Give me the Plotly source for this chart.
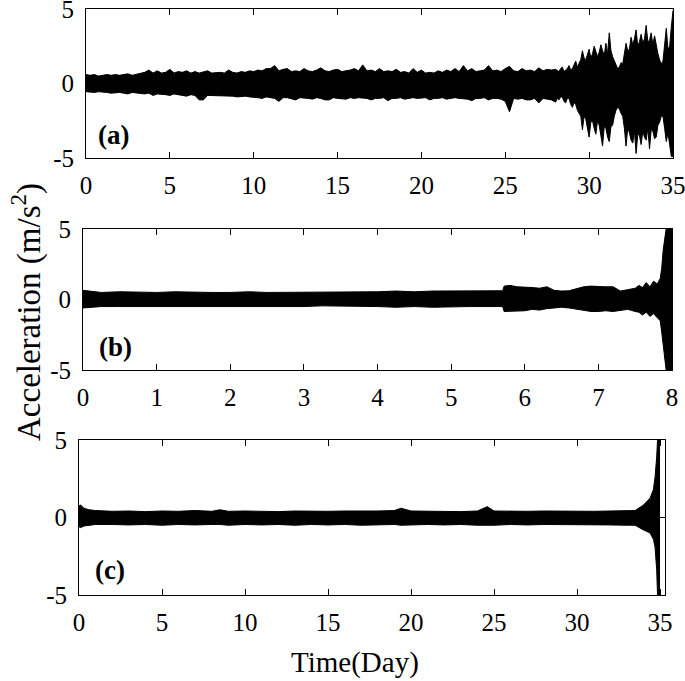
import plotly.graph_objects as go

# ---------------- data (signal envelopes) ----------------
# Panel (a): 0-28 days sampled every 0.25 day, then 28.1-35 every 0.1 day
up_a_early = [0.6, 0.55, 0.6, 0.5, 0.55, 0.6, 0.55, 0.6, 0.55, 0.6, 0.65, 0.55,
              0.6, 0.7, 0.75, 0.9, 0.7, 0.85, 0.7, 0.75, 0.95, 0.7, 0.8, 0.75,
              0.85, 0.7, 0.8, 0.7, 0.75, 0.85, 0.7, 0.75, 0.75, 0.7, 0.9, 0.75,
              0.7, 0.8, 0.75, 0.85, 0.8, 0.9, 0.85, 1.0, 1.0, 1.2, 0.85, 0.95,
              1.0, 0.8, 0.85, 0.8, 1.0, 0.85, 0.8, 0.9, 1.05, 0.85, 0.8, 0.9,
              0.95, 0.8, 0.85, 0.9, 1.0, 0.85, 1.25, 0.85, 0.9, 0.8, 1.0, 0.8,
              0.85, 0.8, 0.95, 0.75, 0.8, 0.7, 1.0, 0.75, 0.9, 0.7, 0.75, 0.7,
              0.85, 0.75, 0.9, 0.8, 1.0, 0.8, 1.2, 0.85, 1.0, 0.8, 0.85, 0.9,
              1.2, 0.85, 0.9, 0.8, 1.0, 1.15, 0.85, 0.8, 1.0, 0.85, 0.9, 0.8,
              1.05, 0.85, 0.95, 0.9, 0.95]
lo_a_early = [-0.55, -0.6, -0.6, -0.55, -0.55, -0.6, -0.65, -0.6, -0.6, -0.65, -0.7, -0.6,
              -0.65, -0.7, -0.7, -0.65, -0.8, -0.7, -0.7, -0.75, -0.8, -0.7, -0.75, -0.8,
              -0.85, -0.75, -0.8, -1.1, -1.1, -0.8, -0.8, -0.85, -0.85, -0.8, -0.8, -0.85,
              -0.9, -0.85, -0.85, -0.9, -0.9, -0.95, -1.0, -0.9, -0.95, -1.0, -1.2, -0.95,
              -0.95, -1.0, -1.1, -0.95, -0.95, -1.0, -1.05, -0.95, -1.0, -1.1, -1.1, -0.95,
              -1.0, -1.05, -1.05, -0.95, -1.0, -0.95, -0.95, -1.0, -1.1, -1.0, -1.0, -0.95,
              -1.15, -1.0, -1.0, -0.95, -1.05, -1.0, -0.95, -1.0, -1.0, -0.95, -1.1, -1.0,
              -1.0, -0.95, -1.05, -1.0, -0.95, -1.0, -1.0, -1.05, -1.15, -1.0, -1.0, -0.95,
              -1.1, -1.0, -1.0, -1.05, -1.2, -1.9, -1.0, -1.05, -1.0, -1.1, -1.1, -1.0,
              -1.3, -1.0, -1.05, -1.1, -1.25]
t_a_early = [i * 0.25 for i in range(len(up_a_early))]

up_a_late = [0.9, 0.8, 1.0, 1.1, 0.8, 0.9, 1.0, 1.2, 0.9, 1.0,
             1.3, 1.5, 1.1, 1.3, 1.6, 2.2, 1.7, 1.6, 2.0, 2.3,
             1.7, 2.0, 2.5, 2.2, 1.8, 2.1, 2.6, 2.2, 1.9, 2.7,
             2.0, 3.4, 2.2, 1.8, 1.5, 1.2, 1.0, 1.1, 1.4, 1.3,
             1.9, 2.7, 2.2, 2.3, 3.1, 2.6, 3.0, 3.6, 2.5, 2.8,
             3.3, 2.7, 3.0, 3.9, 2.8, 2.9, 3.4, 2.6, 3.2, 2.5,
             2.0, 1.6, 1.3, 1.5, 2.4, 3.7, 2.3, 2.5, 3.8, 4.9]
lo_a_late = [-1.0, -1.1, -0.9, -0.9, -1.2, -1.3, -1.0, -1.0, -1.4, -1.6,
             -1.3, -1.4, -1.8, -2.0, -2.2, -3.1, -2.2, -2.4, -2.9, -3.6,
             -2.6, -2.5, -3.0, -3.4, -2.5, -2.8, -3.5, -4.2, -2.9, -3.0,
             -3.6, -3.9, -2.9, -2.8, -2.2, -1.8, -1.6, -1.7, -2.0, -2.2,
             -3.0, -4.2, -3.0, -3.3, -3.8, -4.0, -3.2, -4.7, -3.4, -3.5,
             -4.1, -3.2, -3.6, -3.8, -3.0, -4.4, -3.1, -3.2, -3.7, -3.6,
             -2.8, -2.6, -2.2, -2.2, -3.0, -3.9, -3.3, -4.3, -4.9, -4.9]
t_a_late = [28.1 + i * 0.1 for i in range(len(up_a_late))]

t_a = t_a_early + t_a_late
up_a = up_a_early + up_a_late
lo_a = lo_a_early + lo_a_late

# Panel (b): 0-8 days
t_b = [0, 0.25, 0.5, 0.75, 1, 1.25, 1.5, 1.75, 2, 2.25, 2.5, 2.75, 3, 3.25, 3.5, 3.75,
       4, 4.25, 4.5, 4.75, 5, 5.25, 5.5, 5.6, 5.7, 5.72, 5.8, 5.9, 6.0, 6.1, 6.2, 6.3,
       6.4, 6.5, 6.6, 6.7, 6.8, 6.9, 7.0, 7.1, 7.2, 7.3, 7.4, 7.5, 7.55, 7.6, 7.65,
       7.7, 7.75, 7.8, 7.84, 7.86, 7.88, 7.9, 7.92, 7.95, 8.0]
up_b = [0.65, 0.5, 0.55, 0.5, 0.5, 0.55, 0.5, 0.5, 0.5, 0.55, 0.5, 0.5, 0.5, 0.55, 0.5,
        0.55, 0.55, 0.6, 0.55, 0.6, 0.6, 0.6, 0.6, 0.62, 0.62, 0.95, 1.0, 0.9, 0.9,
        0.85, 0.8, 0.9, 0.65, 0.6, 0.62, 0.75, 0.9, 0.95, 0.9, 0.9, 0.9, 0.6, 0.7, 0.8,
        1.0, 0.85, 1.2, 0.9, 1.3, 1.1, 1.5, 2.2, 3.5, 4.5, 5.0, 5.0, 5.0]
lo_b = [-0.6, -0.5, -0.5, -0.5, -0.55, -0.5, -0.5, -0.55, -0.5, -0.55, -0.5, -0.5, -0.5,
        -0.45, -0.45, -0.5, -0.5, -0.55, -0.5, -0.55, -0.5, -0.5, -0.5, -0.5, -0.5,
        -0.85, -0.85, -0.8, -0.8, -0.7, -0.75, -0.65, -0.6, -0.55, -0.6, -0.7, -0.8,
        -0.85, -0.85, -0.8, -0.85, -0.75, -0.7, -0.85, -0.9, -1.1, -0.9, -1.2, -1.0,
        -1.3, -1.5, -2.3, -3.3, -4.2, -5.0, -5.0, -5.0]

# Panel (c): 0-35 days
t_c = [0, 0.1, 0.3, 0.6, 1, 2, 3, 4, 5, 6, 7, 8, 8.5, 9, 10, 11, 12, 13, 14, 15, 16,
       17, 18, 19, 19.4, 20, 21, 22, 23, 24, 24.6, 25, 26, 27, 28, 29, 30, 31, 32, 33,
       33.5, 34.0, 34.2, 34.4, 34.6, 34.7, 34.8, 34.85, 35.0]
up_c = [0.75, 0.8, 0.6, 0.5, 0.45, 0.4, 0.42, 0.38, 0.42, 0.4, 0.45, 0.4, 0.5, 0.4,
        0.42, 0.4, 0.38, 0.42, 0.4, 0.4, 0.42, 0.4, 0.42, 0.45, 0.6, 0.42, 0.4, 0.42,
        0.38, 0.42, 0.7, 0.42, 0.4, 0.4, 0.42, 0.4, 0.42, 0.4, 0.42, 0.45,
        0.45, 0.8, 1.0, 1.25, 1.8, 2.6, 3.9, 5.0, 5.0]
lo_c = [-0.6, -0.65, -0.55, -0.5, -0.45, -0.45, -0.48, -0.45, -0.5, -0.45, -0.48, -0.45,
        -0.45, -0.5, -0.45, -0.48, -0.45, -0.5, -0.45, -0.48, -0.45, -0.5, -0.48,
        -0.45, -0.5, -0.48, -0.45, -0.48, -0.45, -0.5, -0.5, -0.5, -0.45, -0.48, -0.45,
        -0.45, -0.48, -0.45, -0.48, -0.5,
        -0.5, -0.8, -0.9, -1.0, -1.4, -1.9, -3.4, -5.0, -5.0]

# ticks / labels
x_ticks_a = [0, 5, 10, 15, 20, 25, 30, 35]
x_ticks_b = [0, 1, 2, 3, 4, 5, 6, 7, 8]
x_ticks_c = [0, 5, 10, 15, 20, 25, 30, 35]
y_ticks = [-5, 0, 5]
y_tick_text = ["-5", "0", "5"]
panel_labels = ["(a)", "(b)", "(c)"]
x_title = "Time(Day)"
y_title = "Acceleration (m/s<sup>2</sup>)"

# ---------------- figure ----------------
W, H = 685, 681
FONT = "Liberation Serif, Times New Roman, serif"

fig = go.Figure()

panels = [
    (t_a, up_a, lo_a, "x", "y"),
    (t_b, up_b, lo_b, "x2", "y2"),
    (t_c, up_c, lo_c, "x3", "y3"),
]
for t, up, lo, xa, ya in panels:
    fig.add_trace(go.Scatter(x=t, y=lo, mode="lines", line=dict(color="black", width=1),
                             xaxis=xa, yaxis=ya, showlegend=False, hoverinfo="skip"))
    fig.add_trace(go.Scatter(x=t, y=up, mode="lines", line=dict(color="black", width=1),
                             fill="tonexty", fillcolor="black",
                             xaxis=xa, yaxis=ya, showlegend=False, hoverinfo="skip"))

def px_dom_x(l, r):
    return [l / W, r / W]

def px_dom_y(top, bottom):
    return [1 - bottom / H, 1 - top / H]

common_x = dict(showline=True, linecolor="black", linewidth=1, mirror="ticks",
                ticks="inside", ticklen=6, tickcolor="black", tickwidth=1,
                showgrid=False, zeroline=False, automargin=False,
                ticklabeloverflow="allow",
                tickfont=dict(family=FONT, size=25, color="black"),
                ticklabelstandoff=5)
common_y = dict(showline=True, linecolor="black", linewidth=1, mirror="ticks",
                ticks="inside", ticklen=6, tickcolor="black", tickwidth=1,
                showgrid=False, zeroline=False, range=[-5, 5], automargin=False,
                ticklabeloverflow="allow",
                tickvals=y_ticks, ticktext=y_tick_text,
                tickfont=dict(family=FONT, size=25, color="black"),
                ticklabelstandoff=6)

fig.update_layout(
    width=W, height=H,
    margin=dict(l=0, r=0, t=0, b=0, autoexpand=False),
    paper_bgcolor="white", plot_bgcolor="white",
    xaxis=dict(common_x, domain=px_dom_x(86, 673), range=[0, 35], tickvals=x_ticks_a, anchor="y"),
    yaxis=dict(common_y, domain=px_dom_y(9, 158), anchor="x"),
    xaxis2=dict(common_x, domain=px_dom_x(83, 672), range=[0, 8], tickvals=x_ticks_b, anchor="y2"),
    yaxis2=dict(common_y, domain=px_dom_y(229, 370), anchor="x2"),
    xaxis3=dict(common_x, domain=px_dom_x(79, 665), range=[0, 35.3], tickvals=x_ticks_c, anchor="y3"),
    yaxis3=dict(common_y, domain=px_dom_y(440, 595), anchor="x3"),
)

label_pos = [("x domain", "y domain", 0.017, 0.154),
             ("x2 domain", "y2 domain", 0.024, 0.165),
             ("x3 domain", "y3 domain", 0.024, 0.161)]
for txt, (xr, yr, xx, yy) in zip(panel_labels, label_pos):
    fig.add_annotation(text="<b>%s</b>" % txt, xref=xr, yref=yr, x=xx, y=yy,
                       xanchor="left", yanchor="middle", showarrow=False,
                       font=dict(family=FONT, size=27, color="black"))

fig.add_annotation(text=x_title, xref="paper", yref="paper", x=355 / W, y=1 - 662 / H,
                   xanchor="center", yanchor="middle", showarrow=False,
                   font=dict(family=FONT, size=29, color="black"))
fig.add_annotation(text=y_title, xref="paper", yref="paper", x=26 / W, y=1 - 312 / H,
                   xanchor="center", yanchor="middle", showarrow=False, textangle=-90,
                   font=dict(family=FONT, size=33, color="black"))

fig.write_html("out.html", config={"displayModeBar": False},
               post_script="document.body.style.margin='0';document.body.style.padding='0';")
